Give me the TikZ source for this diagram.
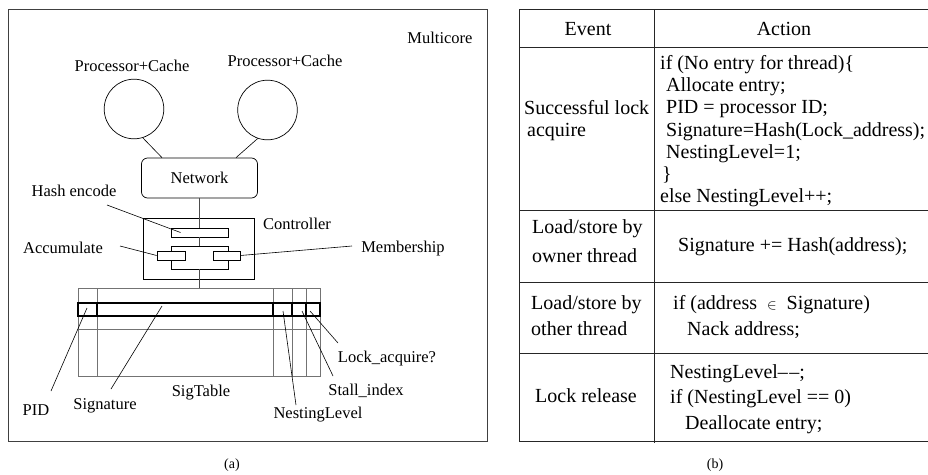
\documentclass[tikz,border=0pt]{standalone}
\usepackage{fontspec}
\setmainfont{Liberation Serif}
\usetikzlibrary{calc}

\tikzset{
  lbl/.style={font=\fontsize{16.5}{19}\selectfont, inner sep=0pt, anchor=base},
  txt/.style={font=\fontsize{20}{24}\selectfont, inner sep=0pt, anchor=base west},
  hdr/.style={font=\fontsize{20}{24}\selectfont, inner sep=0pt, anchor=base},
  subcap/.style={font=\fontsize{14}{16}\selectfont, inner sep=0pt, anchor=base},
  box/.style={draw, line width=0.7pt, inner sep=0pt},
  cpu/.style={circle, draw, line width=0.7pt, minimum size=59.6pt, inner sep=0pt},
  lead/.style={line width=0.6pt},
  spine/.style={line width=0.8pt, color=black!70},
  grid/.style={line width=0.8pt, color=black!55},
  rule/.style={line width=1pt, color=black!85},
}

\begin{document}
\begin{tikzpicture}[x=1pt, y=-1pt]
  %%%%% START %%%%%
  \useasboundingbox (0,0) rectangle (928,474);

  % (a) multicore
  \draw[line width=1pt, color=black!75] (8,9) rectangle (487,441);
  \node[lbl] (multi) at (440,43) {Multicore};

  \node[cpu] (cpuA) at (134,109) {};
  \node[cpu] (cpuB) at (267.5,110) {};
  \node[lbl] (cpuAlbl) at (132,71) {Processor+Cache};
  \node[lbl] (cpuBlbl) at (285,66) {Processor+Cache};

  \node[box, rounded corners=6pt, minimum width=116pt, minimum height=40pt,
        font=\fontsize{16.5}{19}\selectfont] (net) at (199.5,178) {Network};
  \draw[lead] (cpuA.-73) -- ([xshift=-37.5pt]net.north);
  \draw[lead] (cpuB.-109) -- ([xshift=36.5pt]net.north);

  % controller
  \node[box, minimum width=111pt, minimum height=61pt] (ctrl) at (198.5,248.5) {};
  \node[lbl] (ctrllbl) at (297,229) {Controller};
  \node[box, minimum width=57pt, minimum height=9pt] (hash) at (199.5,232.5) {};
  \node[box, minimum width=57pt, minimum height=22.5pt] (merge) at (199.5,257.75) {};
  \node[box, fill=white, minimum width=28pt, minimum height=9pt] (acc) at (171,255.5) {};
  \node[box, fill=white, minimum width=27pt, minimum height=9pt] (memb) at (226.5,255.5) {};

  \coordinate (tabtop) at (199.5,288);
  \draw[spine] (net.south) -- (hash.north);
  \draw[spine] (hash.south) -- (merge.north);
  \draw[spine] (merge.south) -- (tabtop);

  % sigtable
  \draw[grid] (78,288) rectangle (320,376);
  \draw[grid] (78,329) -- (320,329);
  \foreach \x in {97,273,292,306}
    \draw[grid] (\x,288) -- (\x,376);
  \draw[line width=1.6pt] (78,303) rectangle (320,316);
  \foreach \x in {97,273,292,306}
    \draw[line width=1.6pt] (\x,303) -- (\x,316);
  \node[lbl] (sigtab) at (201,396) {SigTable};

  \coordinate (fPID) at (87,308);
  \coordinate (fSig) at (162,306);
  \coordinate (fNest) at (283,311);
  \coordinate (fStall) at (302,311);
  \coordinate (fLock) at (310,311);

  \node[lbl] (pid) at (36,415) {PID};
  \node[lbl] (sig) at (105,409) {Signature};
  \node[lbl] (nest) at (318,418) {NestingLevel};
  \node[lbl] (stall) at (366,395) {Stall\_index};
  \node[lbl] (lock) at (387,362) {Lock\_acquire?};
  \node[lbl] (hashlbl) at (74,196) {Hash encode};
  \node[lbl] (acclbl) at (63,253) {Accumulate};
  \node[lbl] (memblbl) at (403,252) {Membership};

  \draw[lead] ([shift={(33,9)}]hashlbl.base) -- ([xshift=-19pt]hash.center);
  \draw[lead] ([shift={(57,-7)}]acclbl.base) -- (acc.west);
  \draw[lead] ([shift={(-51,-6)}]memblbl.base) -- (memb.east);
  \draw[lead] ([shift={(15,-24)}]pid.base) -- (fPID);
  \draw[lead] ([shift={(6,-20)}]sig.base) -- (fSig);
  \draw[lead] ([shift={(-22,-13)}]nest.base) -- (fNest);
  \draw[lead] ([shift={(-33,-19)}]stall.base) -- (fStall);
  \draw[lead] ([shift={(-49,-19)}]lock.base) -- (fLock);

  \node[subcap] (capA) at (232,468) {(a)};

  % (b) event table
  \draw[rule] (928,9) -- (519,9) -- (519,441) -- (928,441);
  \draw[rule] (654,9) -- (654,443);
  \foreach \y in {47,210,282,353}
    \draw[rule] (519,\y) -- (928,\y);

  \node[hdr] (hEvent) at (588,35) {Event};
  \node[hdr] (hAction) at (784,35) {Action};

  \node[txt] (e1a) at (524,114) {Successful lock};
  \node[txt] (e1b) at (527,136) {acquire};
  \node[txt] (a1a) at (660,69) {if (No entry for thread)\{};
  \node[txt] (a1b) at (666,91) {Allocate entry;};
  \node[txt] (a1c) at (666,113) {PID = processor ID;};
  \node[txt] (a1d) at (666,136) {Signature=Hash(Lock\_address);};
  \node[txt] (a1e) at (666,158) {NestingLevel=1;};
  \node[txt] (a1f) at (662,180) {\}};
  \node[txt] (a1g) at (660,202) {else NestingLevel++;};

  \node[txt] (e2a) at (532,233) {Load/store by};
  \node[txt] (e2b) at (532,262) {owner thread};
  \node[txt] (a2a) at (678,251) {Signature += Hash(address);};

  \node[txt] (e3a) at (531,309) {Load/store by};
  \node[txt] (e3b) at (531,335) {other thread};
  \node[txt] (a3a) at (673,309) {if (address\ \ {\fontsize{15}{16}\selectfont$\in$}\ \ Signature)};
  \node[txt] (a3b) at (687,335) {Nack address;};

  \node[txt] (e4a) at (535,402) {Lock release};
  \node[txt] (a4a) at (670,378) {NestingLevel\textendash\kern1.5pt\textendash;};
  \node[txt] (a4b) at (670,403) {if (NestingLevel == 0)};
  \node[txt] (a4c) at (685,429) {Deallocate entry;};

  \node[subcap] (capB) at (715,468) {(b)};
  %%%%% END %%%%%
\end{tikzpicture}
\end{document}
